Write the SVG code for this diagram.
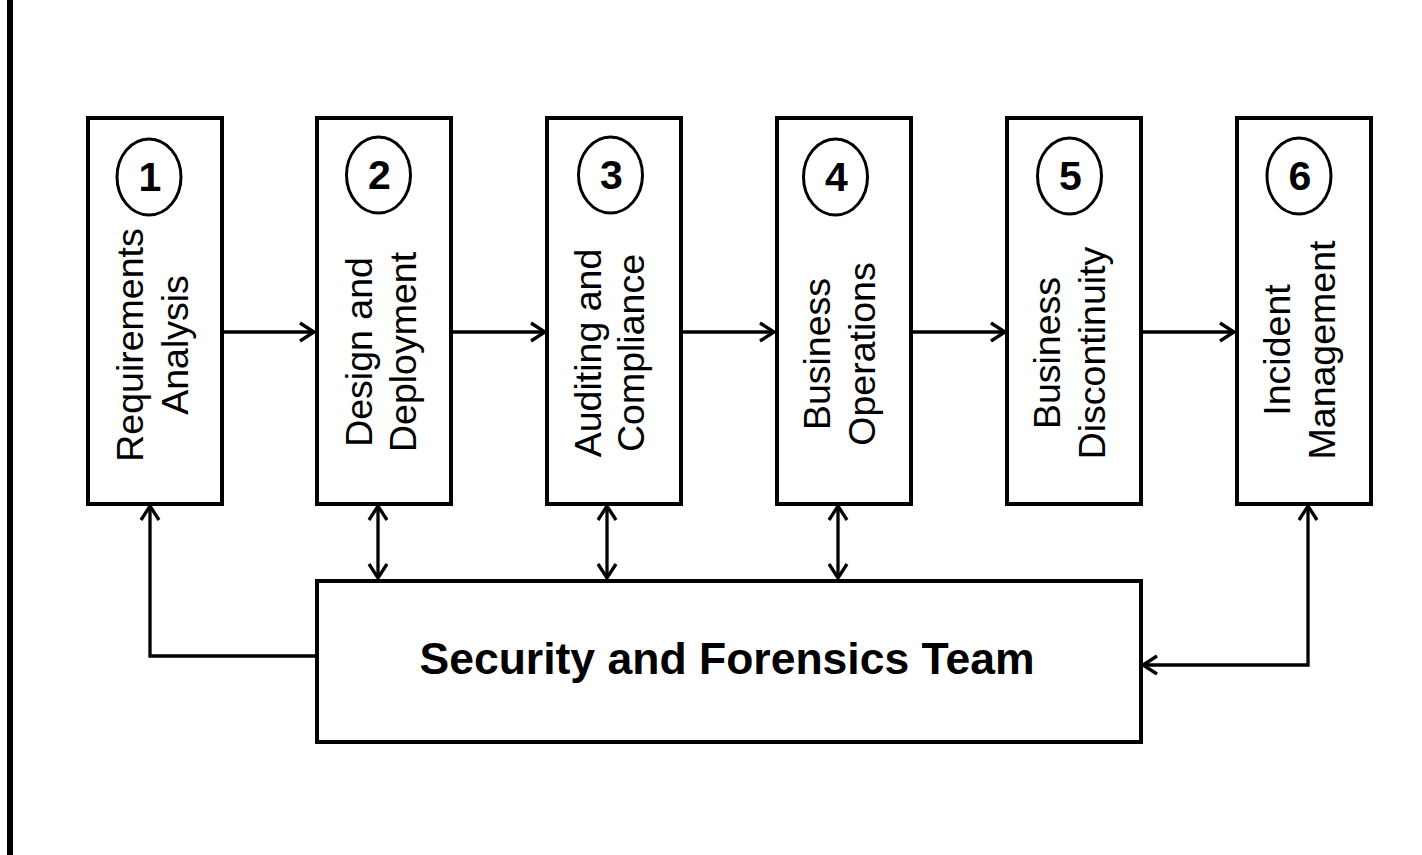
<svg xmlns="http://www.w3.org/2000/svg" width="1422" height="855" viewBox="0 0 1422 855">
<style>
.box{fill:#fff;stroke:#000;stroke-width:4}
.num{fill:#fff;stroke:#000;stroke-width:3}
.lbl{font-family:"Liberation Sans",Arial,sans-serif;font-size:37.5px;fill:#000;text-anchor:middle}
.dig{font-family:"Liberation Sans",Arial,sans-serif;font-size:41px;font-weight:bold;fill:#000;text-anchor:middle}
.title{font-family:"Liberation Sans",Arial,sans-serif;font-size:44.5px;font-weight:bold;fill:#000;text-anchor:middle}
.con{fill:none;stroke:#000;stroke-width:3.3}
</style>
<defs>
<marker id="arr" markerUnits="userSpaceOnUse" viewBox="0 0 18 22" refX="16" refY="11" markerWidth="18" markerHeight="22" orient="auto-start-reverse" overflow="visible">
<path d="M2,2 L16,11 L2,20" fill="none" stroke="#000" stroke-width="3.3" stroke-linejoin="miter"/>
</marker>
</defs>
<rect x="7" y="0" width="6" height="855" fill="#000"/>
<g id="connectors">
<line class="con" x1="224" y1="332" x2="314" y2="332" marker-end="url(#arr)"/>
<line class="con" x1="452" y1="332" x2="545" y2="332" marker-end="url(#arr)"/>
<line class="con" x1="682" y1="332" x2="774" y2="332" marker-end="url(#arr)"/>
<line class="con" x1="912" y1="332" x2="1005" y2="332" marker-end="url(#arr)"/>
<line class="con" x1="1142" y1="332" x2="1234" y2="332" marker-end="url(#arr)"/>
<line class="con" x1="378" y1="506" x2="378" y2="578" marker-start="url(#arr)" marker-end="url(#arr)"/>
<line class="con" x1="607" y1="506" x2="607" y2="578" marker-start="url(#arr)" marker-end="url(#arr)"/>
<line class="con" x1="838" y1="506" x2="838" y2="578" marker-start="url(#arr)" marker-end="url(#arr)"/>
<path class="con" d="M316,656 H150 V506" marker-end="url(#arr)"/>
<path class="con" d="M1308,506 V665 H1143" marker-start="url(#arr)" marker-end="url(#arr)"/>
</g>
<g id="n1">
<rect class="box" x="88" y="118" width="134" height="386"/>
<ellipse class="num" cx="149" cy="177" rx="32" ry="38"/>
<text class="dig" x="150" y="191">1</text>
<text class="lbl" transform="translate(143,345) rotate(-90)"><tspan x="0" y="0">Requirements</tspan><tspan x="0" y="45">Analysis</tspan></text>
</g>
<g id="n2">
<rect class="box" x="317" y="118" width="134" height="386"/>
<ellipse class="num" cx="378.5" cy="175" rx="32" ry="38"/>
<text class="dig" x="379.5" y="189">2</text>
<text class="lbl" transform="translate(372,352) rotate(-90)"><tspan x="0" y="0">Design and</tspan><tspan x="0" y="44">Deployment</tspan></text>
</g>
<g id="n3">
<rect class="box" x="547" y="118" width="134" height="386"/>
<ellipse class="num" cx="610.5" cy="175" rx="32" ry="38"/>
<text class="dig" x="611.5" y="189">3</text>
<text class="lbl" transform="translate(601,353) rotate(-90)"><tspan x="0" y="0">Auditing and</tspan><tspan x="0" y="43">Compliance</tspan></text>
</g>
<g id="n4">
<rect class="box" x="777" y="118" width="134" height="386"/>
<ellipse class="num" cx="835.5" cy="177" rx="32" ry="38"/>
<text class="dig" x="836.5" y="191">4</text>
<text class="lbl" transform="translate(830,354) rotate(-90)"><tspan x="0" y="0">Business</tspan><tspan x="0" y="45">Operations</tspan></text>
</g>
<g id="n5">
<rect class="box" x="1007" y="118" width="134" height="386"/>
<ellipse class="num" cx="1069.5" cy="176" rx="32" ry="38"/>
<text class="dig" x="1070.5" y="190">5</text>
<text class="lbl" transform="translate(1060,353) rotate(-90)"><tspan x="0" y="0">Business</tspan><tspan x="0" y="45">Discontinuity</tspan></text>
</g>
<g id="n6">
<rect class="box" x="1237" y="118" width="134" height="386"/>
<ellipse class="num" cx="1299" cy="176" rx="32" ry="38"/>
<text class="dig" x="1300" y="190">6</text>
<text class="lbl" transform="translate(1290,350) rotate(-90)"><tspan x="0" y="0">Incident</tspan><tspan x="0" y="45">Management</tspan></text>
</g>
<g id="team">
<rect class="box" x="317" y="581" width="824" height="161"/>
<text class="title" x="727" y="674">Security and Forensics Team</text>
</g>
</svg>
